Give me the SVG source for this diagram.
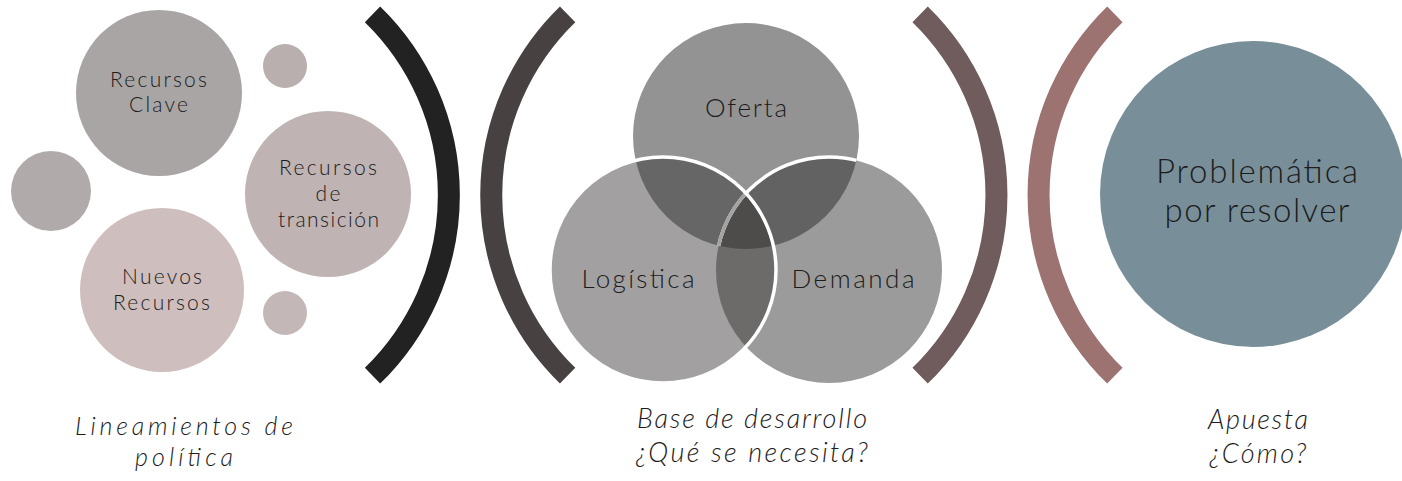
<svg xmlns="http://www.w3.org/2000/svg" width="1402" height="481" viewBox="0 0 1402 481">
<style>
.t{font-family:"Lato","Liberation Sans",sans-serif;font-weight:300;fill:#1c1c1c;text-anchor:middle}
.s{font-size:21px}
.v{font-size:26px}
.p{font-size:33px}
.b{font-size:27px;font-style:italic}
.bl{font-size:25px}
.br{fill:none;stroke-width:22;stroke-linecap:butt}
</style>
<defs>
<clipPath id="cO"><circle cx="746" cy="136" r="113"/></clipPath>
<clipPath id="cL"><circle cx="663" cy="270" r="113"/></clipPath>
</defs>
<rect width="1402" height="481" fill="#fff"/>
<g id="separators">
<path class="br" stroke="#222222" d="M372.5,14.3 A252,252 0 0 1 372.5,375.7"/>
<path class="br" stroke="#474141" stroke-width="21" d="M567.6,14.3 A252,252 0 0 0 567.6,375.7"/>
<path class="br" stroke="#705c5c" stroke-width="21" d="M920.1,14.3 A252,252 0 0 1 920.1,375.7"/>
<path class="br" stroke="#9c7371" stroke-width="21" d="M1114.9,14.3 A252,252 0 0 0 1114.9,375.7"/>
</g>
<g id="recursos-clave"><circle cx="159" cy="93" r="83" fill="#a8a5a4"/><text class="t s" x="158.5" y="87" textLength="97" lengthAdjust="spacing">Recursos</text><text class="t s" x="158.5" y="112" textLength="59" lengthAdjust="spacing">Clave</text></g>
<g id="dot-top"><circle cx="285" cy="66" r="22" fill="#b8afae"/></g>
<g id="dot-left"><circle cx="51" cy="191" r="40" fill="#b0aaaa"/></g>
<g id="recursos-transicion"><circle cx="328" cy="194" r="83" fill="#bfb3b3"/><text class="t s" x="328" y="175" textLength="98" lengthAdjust="spacing">Recursos</text><text class="t s" x="328" y="201" textLength="25" lengthAdjust="spacing">de</text><text class="t s" x="328.5" y="227" textLength="101" lengthAdjust="spacing">transición</text></g>
<g id="nuevos-recursos"><circle cx="162" cy="290" r="82" fill="#cfbebe"/><text class="t s" x="162" y="284" textLength="80" lengthAdjust="spacing">Nuevos</text><text class="t s" x="161.5" y="310" textLength="97" lengthAdjust="spacing">Recursos</text></g>
<g id="dot-bottom"><circle cx="285" cy="313" r="22" fill="#c4b7b7"/></g>
<g id="venn">
<circle cx="746" cy="136" r="113" fill="#939393"/>
<circle cx="663" cy="270" r="113" fill="#a2a0a1"/>
<circle cx="829" cy="270" r="113" fill="#9b9b9b"/>
<circle cx="663" cy="270" r="113" fill="#676666" clip-path="url(#cO)"/>
<circle cx="829" cy="270" r="113" fill="#626262" clip-path="url(#cO)"/>
<circle cx="829" cy="270" r="113" fill="#6c6b6a" clip-path="url(#cL)"/>
<g clip-path="url(#cO)"><circle cx="829" cy="270" r="113" fill="#4e4c4b" clip-path="url(#cL)"/></g>
<circle cx="829" cy="270" r="113" fill="none" stroke="#fff" stroke-width="3.5" clip-path="url(#cO)"/>
<g clip-path="url(#cO)"><circle cx="829" cy="270" r="113" fill="none" stroke="#a3a3a3" stroke-width="3.5" clip-path="url(#cL)"/></g>
<circle cx="663" cy="270" r="113" fill="none" stroke="#fff" stroke-width="3.5"/>
</g>
<g id="oferta"><text class="t v" x="746" y="117" textLength="82" lengthAdjust="spacing">Oferta</text></g>
<g id="logistica"><text class="t v" x="638" y="288" textLength="113" lengthAdjust="spacing">Logística</text></g>
<g id="demanda"><text class="t v" x="853" y="288" textLength="123" lengthAdjust="spacing">Demanda</text></g>
<g id="problematica"><circle cx="1253" cy="194" r="153" fill="#788f9a"/><text class="t p" x="1257" y="183" textLength="202" lengthAdjust="spacing">Problemática</text><text class="t p" x="1257" y="222" textLength="185" lengthAdjust="spacing">por resolver</text></g>
<g id="label-lineamientos"><text class="t b bl" x="184" y="435" textLength="218" lengthAdjust="spacing">Lineamientos de</text><text class="t b bl" x="184" y="466" textLength="98" lengthAdjust="spacing">política</text></g>
<g id="label-base"><text class="t b" x="752" y="428" textLength="230" lengthAdjust="spacing">Base de desarrollo</text><text class="t b" x="752" y="462" textLength="232" lengthAdjust="spacing">¿Qué se necesita?</text></g>
<g id="label-apuesta"><text class="t b" x="1258" y="429" textLength="100" lengthAdjust="spacing">Apuesta</text><text class="t b" x="1258" y="463" textLength="97" lengthAdjust="spacing">¿Cómo?</text></g>
</svg>
